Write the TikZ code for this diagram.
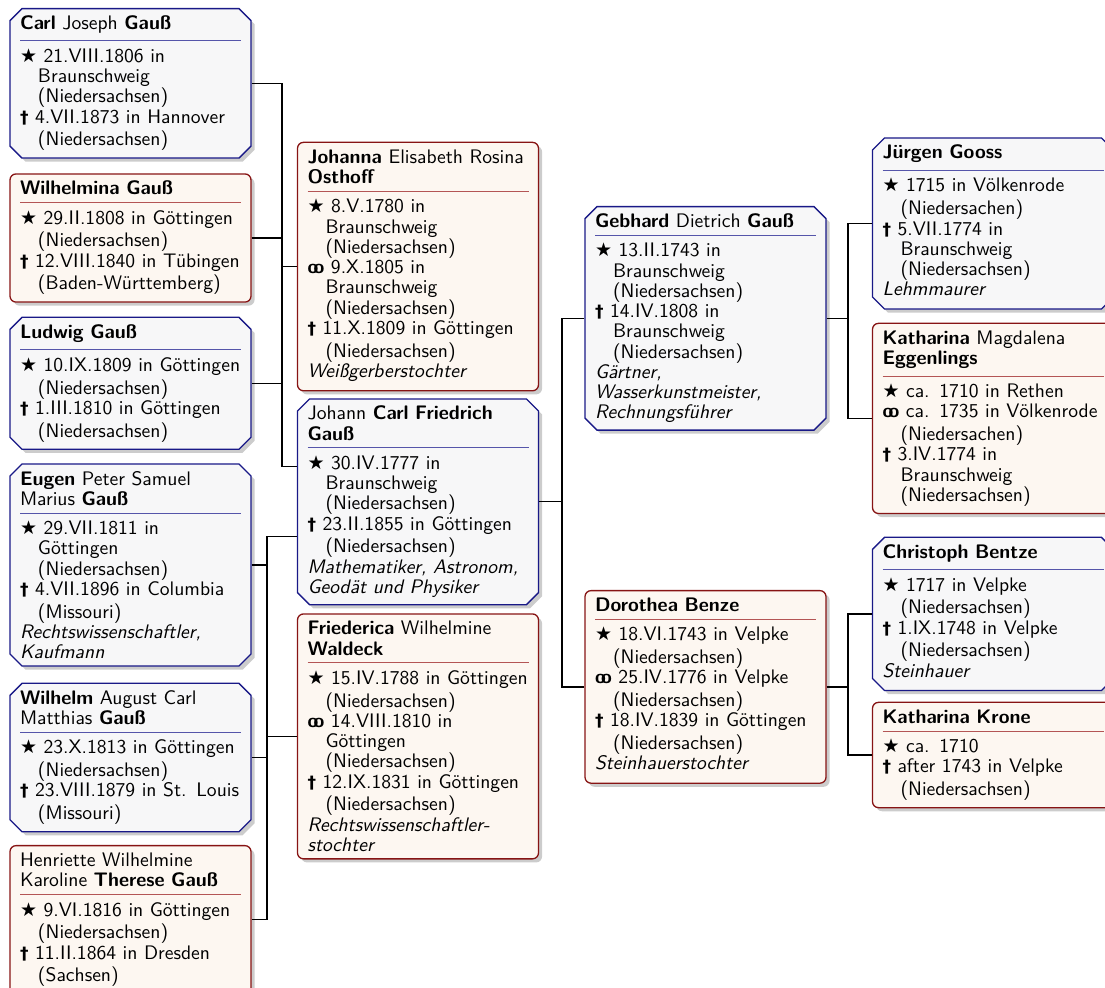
\documentclass[tikz,border=0pt]{standalone}
\usepackage{fontspec}
\usepackage{tikz}
\usetikzlibrary{shapes.misc,shadows}
\newfontfamily\symfont{DejaVu Sans}

\definecolor{malefr}{RGB}{25,25,135}
\definecolor{femalefr}{RGB}{135,20,20}
\definecolor{malebg}{RGB}{247,247,248}
\definecolor{femalebg}{RGB}{253,247,241}
\definecolor{malerule}{RGB}{85,85,170}
\definecolor{femalerule}{RGB}{180,85,85}

\newcommand{\gborn}{{\symfont\fontsize{9.5}{10}\selectfont ★}}
\newcommand{\gmarr}{{\bfseries o\kern-2.3pt o}}
\newcommand{\gdied}{{\symfont\bfseries\fontsize{8.5}{10}\selectfont †}}
\newcommand{\gname}[2]{\rule{0pt}{6.9pt}#2\par\kern3.5pt{\color{#1}\hrule height .5pt}\kern3.4pt}
\newcommand{\gev}[2]{\par\hangindent=9pt\hangafter=1\strut#1\ #2\par}
\newcommand{\gjob}[1]{\par\strut\textit{#1}\par}

\begin{document}
\begin{tikzpicture}[x=0.5pt, y=-0.5pt,
    person/.style={anchor=north, text width=110.5pt, align=left,
      font=\sffamily\fontsize{9.8}{10.125}\selectfont, line width=0.65pt,
      drop shadow={shadow xshift=1.8pt, shadow yshift=-1.8pt, opacity=.2, fill=black}},
    male/.style={person, chamfered rectangle, chamfered rectangle xsep=3pt,
      chamfered rectangle ysep=3pt, inner xsep=2pt, inner ysep=0.6pt,
      draw=malefr, fill=malebg},
    female/.style={person, rectangle, rounded corners=3pt, inner xsep=5pt,
      inner ysep=3.6pt, draw=femalefr, fill=femalebg},
    edge/.style={line width=0.6pt, black}]
        \useasboundingbox (0,0) rectangle (1105,988);

        % we draw the children (first column)
        \node[male] (carl) at (130.5,8) {\gname{malerule}{\textbf{Carl} Joseph \textbf{Gauß}}
            \gev{\gborn}{21.VIII.1806 in\newline Braunschweig\newline (Niedersachsen)}
            \gev{\gdied}{4.VII.1873 in Hannover\newline (Niedersachsen)}};
        \node[female] (wilhelmina) at (130.5,173.3) {\gname{femalerule}{\textbf{Wilhelmina Gauß}}
            \gev{\gborn}{29.II.1808 in Göttingen\newline (Niedersachsen)}
            \gev{\gdied}{12.VIII.1840 in Tübingen\newline (Baden-Württemberg)}};
        \node[male] (ludwig) at (130.5,316.7) {\gname{malerule}{\textbf{Ludwig Gauß}}
            \gev{\gborn}{10.IX.1809 in Göttingen\newline (Niedersachsen)}
            \gev{\gdied}{1.III.1810 in Göttingen\newline (Niedersachsen)}};
        \node[male] (eugen) at (130.5,463.3) {\gname{malerule}{\textbf{Eugen} Peter Samuel\newline Marius \textbf{Gauß}}
            \gev{\gborn}{29.VII.1811 in\newline Göttingen\newline (Niedersachsen)}
            \gev{\gdied}{4.VII.1896 in Columbia\newline (Missouri)}
            \gjob{Rechtswissenschaftler,\newline Kaufmann}};
        \node[male] (wilhelm) at (130.5,682.7) {\gname{malerule}{\textbf{Wilhelm} August Carl\newline Matthias \textbf{Gauß}}
            \gev{\gborn}{23.X.1813 in Göttingen\newline (Niedersachsen)}
            \gev{\gdied}{23.VIII.1879 in St. Louis\newline (Missouri)}};
        \node[female] (therese) at (130.5,845) {\gname{femalerule}{Henriette Wilhelmine\newline Karoline \textbf{Therese Gauß}}
            \gev{\gborn}{9.VI.1816 in Göttingen\newline (Niedersachsen)}
            \gev{\gdied}{11.II.1864 in Dresden\newline (Sachsen)}};

        % we draw the parents (second column)
        \node[female] (johanna) at (418,141.7) {\gname{femalerule}{\textbf{Johanna} Elisabeth Rosina\newline \textbf{Osthoff}}
            \gev{\gborn}{8.V.1780 in\newline Braunschweig\newline (Niedersachsen)}
            \gev{\gmarr}{9.X.1805 in\newline Braunschweig\newline (Niedersachsen)}
            \gev{\gdied}{11.X.1809 in Göttingen\newline (Niedersachsen)}
            \gjob{Weißgerberstochter}};
        \node[male] (jcf) at (418,398.3) {\gname{malerule}{Johann \textbf{Carl Friedrich}\newline \textbf{Gauß}}
            \gev{\gborn}{30.IV.1777 in\newline Braunschweig\newline (Niedersachsen)}
            \gev{\gdied}{23.II.1855 in Göttingen\newline (Niedersachsen)}
            \gjob{Mathematiker, Astronom,\newline Geodät und Physiker}};
        \node[female] (friederica) at (418,613.3) {\gname{femalerule}{\textbf{Friederica} Wilhelmine\newline \textbf{Waldeck}}
            \gev{\gborn}{15.IV.1788 in Göttingen\newline (Niedersachsen)}
            \gev{\gmarr}{14.VIII.1810 in\newline Göttingen\newline (Niedersachsen)}
            \gev{\gdied}{12.IX.1831 in Göttingen\newline (Niedersachsen)}
            \gjob{Rechtswissenschaftler-\newline stochter}};

        % we draw the grandparents (third column)
        \node[male] (gebhard) at (705.5,206) {\gname{malerule}{\textbf{Gebhard} Dietrich \textbf{Gauß}}
            \gev{\gborn}{13.II.1743 in\newline Braunschweig\newline (Niedersachsen)}
            \gev{\gdied}{14.IV.1808 in\newline Braunschweig\newline (Niedersachsen)}
            \gjob{Gärtner,\newline Wasserkunstmeister,\newline Rechnungsführer}};
        \node[female] (dorothea) at (705.5,590) {\gname{femalerule}{\textbf{Dorothea Benze}}
            \gev{\gborn}{18.VI.1743 in Velpke\newline (Niedersachsen)}
            \gev{\gmarr}{25.IV.1776 in Velpke\newline (Niedersachsen)}
            \gev{\gdied}{18.IV.1839 in Göttingen\newline (Niedersachsen)}
            \gjob{Steinhauerstochter}};

        % we draw the great-grandparents (fourth column)
        \node[male] (jurgen) at (993,137.3) {\gname{malerule}{\textbf{Jürgen Gooss}}
            \gev{\gborn}{1715 in Völkenrode\newline (Niedersachen)}
            \gev{\gdied}{5.VII.1774 in\newline Braunschweig\newline (Niedersachsen)}
            \gjob{Lehmmaurer}};
        \node[female] (kmagd) at (993,322.7) {\gname{femalerule}{\textbf{Katharina} Magdalena\newline \textbf{Eggenlings}}
            \gev{\gborn}{ca. 1710 in Rethen}
            \gev{\gmarr}{ca. 1735 in Völkenrode\newline (Niedersachen)}
            \gev{\gdied}{3.IV.1774 in\newline Braunschweig\newline (Niedersachsen)}};
        \node[male] (christoph) at (993,536.7) {\gname{malerule}{\textbf{Christoph Bentze}}
            \gev{\gborn}{1717 in Velpke\newline (Niedersachsen)}
            \gev{\gdied}{1.IX.1748 in Velpke\newline (Niedersachsen)}
            \gjob{Steinhauer}};
        \node[female] (krone) at (993,701.7) {\gname{femalerule}{\textbf{Katharina Krone}}
            \gev{\gborn}{ca. 1710}
            \gev{\gdied}{after 1743 in Velpke\newline (Niedersachsen)}};

        % we mark the bars of the families
        \coordinate (fa) at (282,0);
        \coordinate (fb) at (267,0);
        \coordinate (fc) at (562,0);
        \coordinate (fd) at (848,0);
        \coordinate (jcfup) at ([yshift=17.5pt]jcf.west);
        \coordinate (jcfdn) at ([yshift=-17.5pt]jcf.west);

        % we draw the first marriage
        \draw[edge] (carl.east) -| (fa |- jcfup) -- (jcfup);
        \draw[edge] (wilhelmina.east) -- (wilhelmina.east -| fa);
        \draw[edge] (ludwig.east) -- (ludwig.east -| fa);
        \draw[edge] (johanna.west) -- (johanna.west -| fa);

        % we draw the second marriage
        \draw[edge] (jcfdn) -| (fb |- therese.east) -- (therese.east);
        \draw[edge] (eugen.east) -- (eugen.east -| fb);
        \draw[edge] (wilhelm.east) -- (wilhelm.east -| fb);
        \draw[edge] (friederica.west) -- (friederica.west -| fb);

        % we draw the ancestors
        \draw[edge] (gebhard.west) -| (fc |- dorothea.west) -- (dorothea.west);
        \draw[edge] (jcf.east) -- (jcf.east -| fc);
        \draw[edge] (jurgen.west) -| (fd |- kmagd.west) -- (kmagd.west);
        \draw[edge] (gebhard.east) -- (gebhard.east -| fd);
        \draw[edge] (christoph.west) -| (fd |- krone.west) -- (krone.west);
        \draw[edge] (dorothea.east) -- (dorothea.east -| fd);
\end{tikzpicture}
\end{document}
